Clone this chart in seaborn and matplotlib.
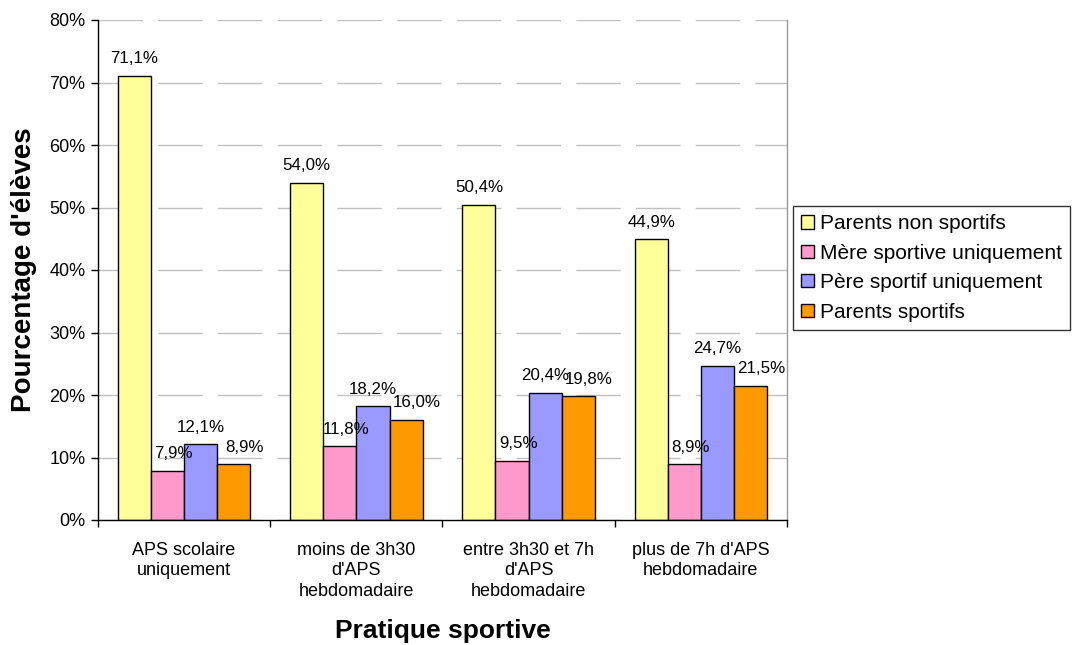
import matplotlib
matplotlib.use("Agg")
import matplotlib.pyplot as plt
import seaborn as sns
import pandas as pd
import numpy as np
from matplotlib.ticker import FixedLocator, FuncFormatter

categories = ["APS scolaire\nuniquement",
              "moins de 3h30\nd'APS\nhebdomadaire",
              "entre 3h30 et 7h\nd'APS\nhebdomadaire",
              "plus de 7h d'APS\nhebdomadaire"]
series = ["Parents non sportifs", "Mère sportive uniquement",
          "Père sportif uniquement", "Parents sportifs"]
parents_non_sportifs = [71.1, 54.0, 50.4, 44.9]
mere_sportive = [7.9, 11.8, 9.5, 8.9]
pere_sportif = [12.1, 18.2, 20.4, 24.7]
parents_sportifs = [8.9, 16.0, 19.8, 21.5]
colors = ["#FFFF99", "#FF99CC", "#9999FF", "#FF9900"]

values = [parents_non_sportifs, mere_sportive, pere_sportif, parents_sportifs]
rows = []
for s, vals in zip(series, values):
    for c, v in zip(categories, vals):
        rows.append({"cat": c, "series": s, "val": v})
df = pd.DataFrame(rows)

sns.set_theme(style="white")
plt.rcParams['font.family'] = ['Liberation Sans', 'DejaVu Sans']
plt.rcParams['text.color'] = 'black'
plt.rcParams['axes.labelcolor'] = 'black'
plt.rcParams['xtick.color'] = 'black'
plt.rcParams['ytick.color'] = 'black'

fig = plt.figure(figsize=(10.74, 6.45), dpi=100)
ax = fig.add_axes([98/1074, 1-520/645, (787-98)/1074, 500/645])

sns.barplot(data=df, x="cat", y="val", hue="series", hue_order=series,
            order=categories, palette=colors, edgecolor="black", linewidth=1.0,
            width=0.77, gap=0, ax=ax, errorbar=None, saturation=1)

# horizontal nudges (points) of the value labels, as in the original layout
label_dx = [0, 4.5, 0, 7.5]
for cont, dx in zip(ax.containers, label_dx):
    labels = [f"{v:.1f}%".replace(".", ",") for v in cont.datavalues]
    anns = ax.bar_label(cont, labels=labels, padding=7, fontsize=12.2, color="black")
    for a in anns:
        a.xyann = (dx, 7)

ax.set_ylim(0, 80)
ax.set_xlim(-0.5, 3.5)
ax.set_yticks(np.arange(0, 81, 10))
ax.yaxis.set_major_formatter(FuncFormatter(lambda v, p: f"{int(v)}%"))
ax.tick_params(axis="y", which="major", direction="out", length=5, width=1,
               color="black", labelsize=13, pad=4, left=True)
ax.tick_params(axis="x", which="major", length=0, labelsize=13, pad=16)
for t in ax.get_xticklabels():
    t.set_linespacing(1.25)
ax.xaxis.set_minor_locator(FixedLocator([-0.5, 0.5, 1.5, 2.5, 3.5]))
ax.tick_params(axis="x", which="minor", direction="out", length=5, width=1,
               color="black", bottom=True)
ax.yaxis.grid(True, color="#C0C0C0", linewidth=1, linestyle=(0, (32, 11)))
ax.set_axisbelow(True)

ax.spines["top"].set_visible(False)
ax.spines["right"].set_color("#999999")
ax.spines["right"].set_linewidth(1)
for s in ["left", "bottom"]:
    ax.spines[s].set_color("black")
    ax.spines[s].set_linewidth(1)

ax.set_xlabel("Pratique sportive", fontsize=19, fontweight="bold", labelpad=14)
ax.set_ylabel("Pourcentage d'élèves", fontsize=20, fontweight="bold", labelpad=9)

leg = ax.legend(loc="center left", bbox_to_anchor=(793/1074, 1-268/645),
                bbox_transform=fig.transFigure, frameon=True, fontsize=15,
                fancybox=False, edgecolor="black", handlelength=0.6,
                handleheight=0.6, handletextpad=0.3, borderpad=0.4,
                labelspacing=0.5, borderaxespad=0)
leg.get_frame().set_linewidth(1)

fig.savefig("out.png", dpi=100, facecolor="white")
